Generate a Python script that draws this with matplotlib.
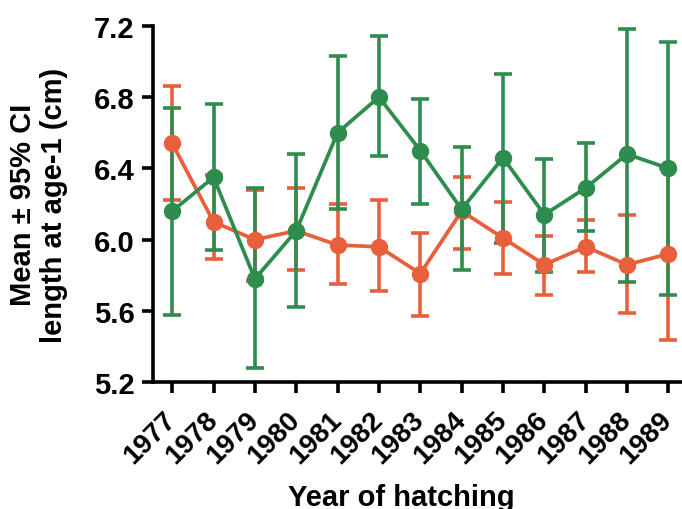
import matplotlib
matplotlib.use('Agg')
import matplotlib.pyplot as plt
import numpy as np

plt.rcParams['font.family'] = ['Liberation Sans', 'DejaVu Sans']
plt.rcParams['font.weight'] = 'bold'

years = ['1977', '1978', '1979', '1980', '1981', '1982', '1983',
         '1984', '1985', '1986', '1987', '1988', '1989']

# orange series
orange_mean = [6.54, 6.10, 6.00, 6.05, 5.97, 5.96, 5.81, 6.16, 6.01, 5.86, 5.96, 5.86, 5.92]
orange_upper = [6.86, 6.36, 6.28, 6.29, 6.20, 6.22, 6.04, 6.35, 6.21, 6.02, 6.11, 6.14, 6.40]
orange_lower = [6.22, 5.89, 5.77, 5.83, 5.75, 5.71, 5.57, 5.95, 5.81, 5.69, 5.82, 5.59, 5.44]

# green series
green_mean = [6.16, 6.35, 5.78, 6.05, 6.60, 6.80, 6.50, 6.17, 6.46, 6.14, 6.29, 6.48, 6.40]
green_upper = [6.74, 6.76, 6.29, 6.48, 7.03, 7.14, 6.79, 6.52, 6.93, 6.45, 6.54, 7.18, 7.11]
green_lower = [5.58, 5.94, 5.28, 5.62, 6.17, 6.47, 6.20, 5.83, 5.98, 5.82, 6.05, 5.76, 5.69]

ORANGE = '#E8603B'
GREEN = '#2F8C4F'

fig = plt.figure(figsize=(6.82, 5.10), dpi=100)
ax = fig.add_axes([0.224, 0.2484, 0.776, 0.6992])

x = np.arange(len(years))
for mean, lo, hi, col in [(orange_mean, orange_lower, orange_upper, ORANGE),
                          (green_mean, green_lower, green_upper, GREEN)]:
    mean = np.array(mean)
    yerr = [mean - np.array(lo), np.array(hi) - mean]
    ax.errorbar(x, mean, yerr=yerr, color=col, linewidth=2.7, elinewidth=2.6,
                capsize=6.5, capthick=2.6, marker='o', markersize=11.5,
                clip_on=False)

ticks = np.arange(5.2, 7.21, 0.4)
ax.set_xlim(-0.47, 12.33)
ax.set_ylim(5.2, 7.2)
ax.set_yticks(ticks)
ax.set_yticklabels([f'{v:.1f}' for v in ticks], fontsize=21, fontweight='bold')
ax.set_xticks(x)
ax.set_xticklabels(years, rotation=45, ha='right', va='center',
                   rotation_mode='anchor', fontsize=20, fontweight='bold')

for side in ['top', 'right']:
    ax.spines[side].set_visible(False)
for side in ['left', 'bottom']:
    ax.spines[side].set_linewidth(2.6)
ax.tick_params(width=2.6, length=8)
ax.tick_params(axis='y', pad=5)
ax.tick_params(axis='x', pad=16)

ax.set_ylabel('Mean \u00b1 95% CI\nlength at age-1 (cm)', fontsize=21,
              fontweight='bold', linespacing=1.15)
ax.yaxis.set_label_coords(-0.16, 0.5)
ax.set_xlabel('Year of hatching', fontsize=21, fontweight='bold')
ax.xaxis.label.set_va('baseline')
ax.xaxis.set_label_coords(0.469, -0.344)

fig.savefig('out.png', dpi=100)
